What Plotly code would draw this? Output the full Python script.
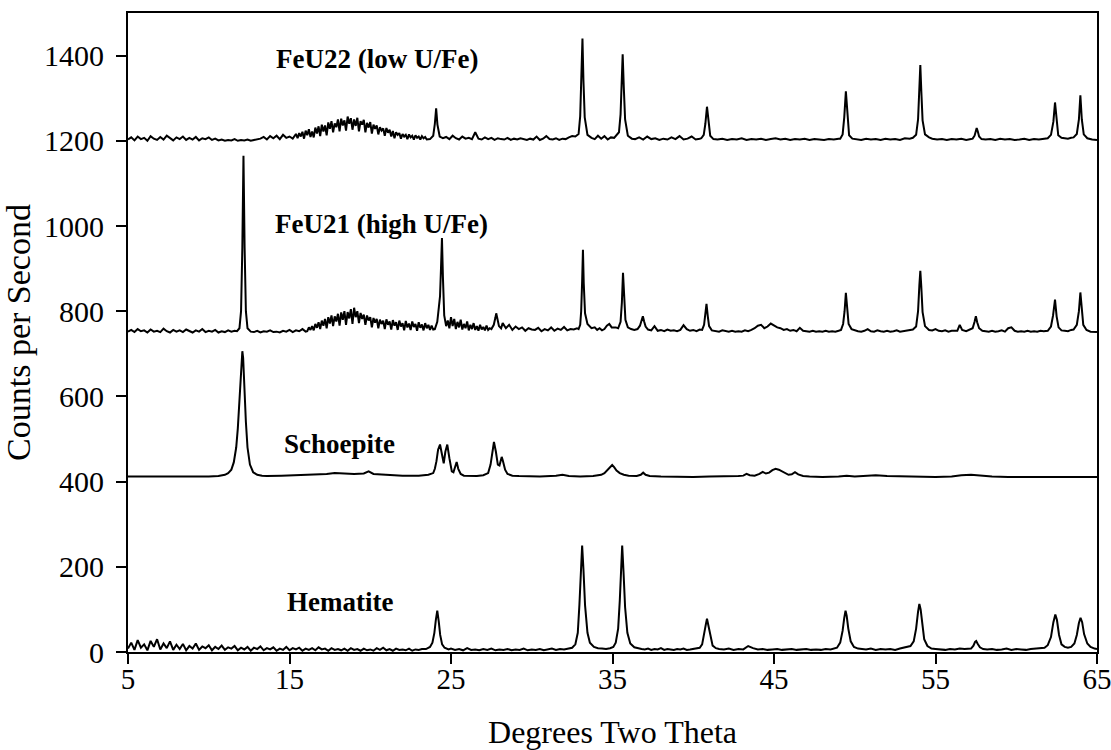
import numpy as np
import plotly.graph_objects as go

# ---------------- data ----------------
# Each trace is a list of blocks. A block is either a scan segment
# ("seg", x_start, x_step, [counts...]) or explicit points ("pts", [x...], [y...]).

feu22_blocks = [
    ("seg", 5.0, 0.2, [1203,1208,1201,1210,1204,1207,1200,1211,1205,1202,1209,1203,1212,1206,1201,1208,1204,1210,1202,1207,1203,1209,1201,1206,1204,1208,1202,1205,
                      1201,1203,1200,1202,1201,1204,1200,1202,1201,1203,1200,1202,1203,
                      1205,1209,1203,1211,1206,1212,1204,1214,1207,1210,1205,1216]),
    ("seg", 15.5, 0.1, [1206,1218,1210,1221,1205,1224,1213,1227,1209,1222,1208,1231,1217,1234,1211,1238,1222,1236,1213,1243,1228,1246,1220,1241,1232,1250,1222,1252,1236,1248,1224,1257,1240,1253,1226,1250,1235,1254,1222,1246,1238,1249,1220,1242,1231,1244,1217,1238,1228,1236,1215,1232,1224,1229,1212,1230,1219,1226,1210,1223,1206,1220,1214,1218,1205,1216,1210,1214,1204,1215,1208,1212,1203,1213,1207,1210,1203,1211,1206,1209,1203]),
    ("pts", [23.7,23.9,24.0,24.08,24.16,24.3,24.5], [1204,1212,1240,1276,1238,1210,1206]),
    ("seg", 24.7, 0.2, [1209,1204,1212,1206,1203,1210,1205,1207,1204,1220,1205,1203,1208,1204,1207,1202,1206,1204,1203,1207,1202,1205,1203,1206,1204,1202,1205,1203,1210,1202,1205,1211,1204,1203,1206,1202,1205,1204,1208,1211]),
    ("pts", [32.7,32.9,33.0,33.08,33.14,33.2,33.28,33.45,33.7], [1210,1216,1258,1345,1440,1342,1255,1214,1207]),
    ("seg", 33.9, 0.2, [1204,1212,1205,1211,1203,1208,1207]),
    ("pts", [35.25,35.4,35.5,35.57,35.63,35.7,35.78,35.95,36.2], [1214,1220,1262,1330,1403,1325,1250,1212,1205]),
    ("seg", 36.4, 0.25, [1204,1208,1203,1210,1204,1206,1202,1205,1203,1208,1204,1211,1203,1205,1210,1203,1205]),
    ("pts", [40.5,40.65,40.75,40.85,40.95,41.05,41.25], [1206,1214,1240,1280,1238,1212,1204]),
    ("seg", 41.5, 0.3, [1203,1205,1202,1204,1203,1206,1202,1204,1203,1205,1202,1204,1206,1203,1205,1202,1204,1203,1205,1202,1204,1203,1202,1204,1203,1205]),
    ("pts", [49.1,49.25,49.35,49.45,49.55,49.65,49.85], [1205,1215,1255,1316,1252,1213,1205]),
    ("seg", 50.1, 0.3, [1204,1202,1205,1203,1204,1202,1205,1203,1204,1202,1206,1205]),
    ("pts", [53.6,53.8,53.92,54.0,54.06,54.12,54.2,54.35,54.6], [1207,1214,1250,1320,1378,1318,1248,1215,1208]),
    ("seg", 54.8, 0.3, [1205,1203,1204,1202,1204,1203,1205,1202,1204]),
    ("pts", [57.3,57.42,57.5,57.55,57.62,57.7,57.85], [1205,1212,1225,1230,1222,1210,1204]),
    ("seg", 58.1, 0.3, [1203,1204,1202,1205,1203,1204,1202,1203,1205,1202,1204,1203,1205]),
    ("pts", [61.95,62.15,62.3,62.4,62.5,62.6,62.8], [1206,1214,1245,1290,1244,1213,1207]),
    ("seg", 63.0, 0.2, [1206,1205,1207]),
    ("pts", [63.55,63.75,63.88,63.97,64.06,64.18,64.4,64.7,65.0], [1208,1216,1250,1307,1250,1215,1206,1203,1202]),
]

feu21_blocks = [
    ("seg", 5.0, 0.2, [752,756,751,758,753,755,750,757,752,754,751,759,753,750,756,752,755,751,757,753,750,755,752,758,751,754,752,756,750,753,751,755,752,754]),
    ("pts", [11.75,11.9,12.0,12.08,12.15,12.22,12.3,12.4,12.6], [753,760,800,950,1165,950,800,760,752]),
    ("seg", 12.8, 0.2, [751,754,750,753,752,755,751,752,750,754,752,756,751,755,753,758,752]),
    ("seg", 16.1, 0.1, [753,762,756,765,755,770,761,774,758,778,766,782,760,786,771,790,765,788,776,794,766,797,780,800,768,798,783,805,770,808,786,800,772,796,782,792,768,790,778,786,762,784,773,782,760,780,770,778,758,781,768,776,757,779,766,774,756,778,764,772,755,777,762,771,756,776,763,770,754,774,761,769,755,772,760,768,756,766,757]),
    ("pts", [24.0,24.15,24.25,24.32,24.38,24.44,24.5,24.58,24.7], [758,775,810,835,900,972,880,790,765]),
    ("seg", 24.8, 0.1, [778,760,786,765,782,758,775,762,780,757,770,760,776,755,768,758,772,756,765,754,768,757,763,755,766,756,760]),
    ("pts", [27.5,27.65,27.75,27.8,27.87,27.97,28.1], [758,768,785,795,783,765,760]),
    ("seg", 28.2, 0.2, [772,760,768,756,764,758,762,754,760,757,756,761,753,758,755,762,754,759,756,763,755,758,757,760]),
    ("pts", [32.9,33.0,33.06,33.12,33.17,33.22,33.3,33.45,33.7], [758,768,800,870,944,865,795,770,760]),
    ("seg", 33.9, 0.15, [762,756,760,755,758,766,770,762]),
    ("pts", [35.2,35.35,35.5,35.58,35.65,35.72,35.8,35.95,36.15], [762,760,775,820,890,818,780,762,758]),
    ("pts", [36.35,36.55,36.7,36.8,36.88,36.96,37.05,37.2,37.4], [756,758,766,778,788,776,764,757,755]),
    ("seg", 37.6, 0.2, [765,754,756,753,757,754,755,753,756,767,758,754,756,753,757]),
    ("pts", [40.55,40.67,40.75,40.82,40.9,40.98,41.15], [756,768,790,817,788,765,755]),
    ("seg", 41.4, 0.2, [754,752,755,753,752,754,752,753,752,755,753,756,760,766,768,760,764,771,766,762,760,756,758,754,756,753,761,754,753,752,754,752,753,752,754,752,753,752,754]),
    ("pts", [49.15,49.28,49.37,49.45,49.53,49.62,49.8], [756,770,800,843,798,770,758]),
    ("seg", 50.0, 0.2, [755,753,752,754,758,753,752,755,753,752,754,752,753,755,752,753,754,756]),
    ("pts", [53.6,53.8,53.92,54.0,54.06,54.12,54.2,54.35,54.6], [757,764,800,860,895,858,798,765,756]),
    ("seg", 54.8, 0.2, [755,758,754,753,755,752,754,753]),
    ("pts", [56.35,56.5,56.65,56.9,57.1,57.3,57.42,57.5,57.58,57.7,57.9], [754,768,756,753,756,760,775,788,774,760,754]),
    ("seg", 58.1, 0.2, [753,752,754,752,753,755,752,760,762,754,752,753,752,754,752,753,752,754,753]),
    ("pts", [61.95,62.15,62.28,62.4,62.5,62.62,62.8], [754,764,790,827,788,762,755]),
    ("seg", 63.0, 0.2, [754,753,756]),
    ("pts", [63.55,63.75,63.88,63.97,64.05,64.15,64.35,64.6,65.0], [757,768,800,844,800,768,756,752,751]),
]

schoepite_blocks = [
    ("pts", [5.0,6.0,7.0,8.0,9.0,10.0,10.6,11.0,11.2], [412,412,411,411,411,412,413,416,420]),
    ("pts", [11.4,11.55,11.7,11.8,11.9,11.98,12.04,12.08,12.13,12.2,12.3,12.4,12.55,12.75,13.0,13.3],
            [428,445,480,525,590,660,700,706,690,620,540,480,440,422,416,414]),
    ("pts", [13.6,14.5,15.5,16.5,17.3,17.8,18.3,19.0,19.6,19.9,20.2,21.0,22.0,23.0,23.6,23.9],
            [413,414,415,417,418,420,419,418,419,424,418,416,414,414,416,420]),
    ("pts", [24.0,24.1,24.2,24.32,24.45,24.55,24.65,24.77,24.9,25.05,25.15,25.25,25.35,25.45,25.6,25.8,26.1],
            [430,448,475,487,460,443,470,487,455,424,422,432,446,430,418,414,413]),
    ("pts", [26.6,27.0,27.3,27.45,27.55,27.66,27.78,27.9,28.0,28.07,28.14,28.22,28.35,28.5,28.8,29.2],
            [413,415,420,440,470,493,470,440,438,450,458,448,428,418,414,413]),
    ("pts", [29.8,30.5,31.5,31.9,32.3,33.0,33.8,34.3], [412,412,414,416,413,412,413,416]),
    ("pts", [34.5,34.7,34.85,34.98,35.1,35.25,35.45,35.7,36.0], [420,428,436,439,434,426,420,416,414]),
    ("pts", [36.5,36.75,36.9,37.05,37.3], [413,416,421,416,413]),
    ("pts", [38.0,39.0,40.0,41.0,42.0,42.8], [412,411,411,412,412,413]),
    ("pts", [43.1,43.3,43.5,43.8,44.1,44.3,44.5,44.7,44.9,45.1,45.3,45.5,45.7,45.9,46.1,46.3,46.5,46.8,47.2],
            [414,418,415,414,418,423,419,421,427,430,428,424,419,416,417,422,417,413,412]),
    ("pts", [48.0,49.0,49.5,50.0,50.7,51.3,52.0,53.0,54.0,55.0,56.0,56.6,57.2,57.8,58.5,59.5,60.5,61.5,62.5,63.5,64.5,65.0],
            [411,412,414,412,413,415,413,412,412,411,412,415,416,414,412,411,411,411,412,411,411,411]),
]

hematite_blocks = [
    ("seg", 5.0, 0.2, [8,22,5,28,10,18,4,26,12,30,6,20,9,25,5,17,
                      7,19,4,14,8,20,5,13,9,16,4,12,7,15,5,11,8,14,4,10,
                      6,12,3,10,7,13,4,9,6,11,3,8,5,12,4,9,6,10,3,8,5,9,4,11,6,8,3,9,5,7,
                      4,8,3,9,5,7,3,8,4,6,3,9,5,10,4,7,3,8,5,6,4,8,3,6,5,7]),
    ("pts", [23.45,23.7,23.85,23.97,24.06,24.15,24.24,24.33,24.45,24.6,24.85], [7,12,22,45,75,97,72,40,18,10,6]),
    ("seg", 25.0, 0.25, [8,5,7,4,9,5,6,4,7,5,8,4,6,5,7,4,6,5,8,4,6,5,7,4,6,8,5,7,6]),
    ("pts", [32.2,32.5,32.7,32.85,32.95,33.05,33.12,33.2,33.3,33.45,33.6,33.85,34.1], [7,10,18,45,110,200,250,195,110,45,22,12,9]),
    ("pts", [34.35,34.6,34.85], [8,7,9]),
    ("pts", [35.05,35.2,35.35,35.45,35.53,35.6,35.68,35.78,35.92,36.1,36.35,36.6], [12,22,55,120,200,250,190,105,45,20,11,8]),
    ("seg", 36.8, 0.2, [7,6,8,5,7,6,9,5,7,6,5,7,6,8,5,6,7,9]),
    ("pts", [40.4,40.55,40.68,40.78,40.85,40.93,41.05,41.2,41.4], [10,18,40,65,78,63,38,15,9]),
    ("seg", 41.6, 0.3, [7,6,8,5,7,6,14,9,6,7,5,6,7,5,6,7,5,6,7,5,6,5,7,6,8]),
    ("pts", [48.9,49.1,49.25,49.35,49.43,49.5,49.6,49.75,49.95,50.2], [10,22,50,80,97,85,55,25,12,8]),
    ("seg", 50.4, 0.3, [7,6,8,5,7,6,7,5,8,10]),
    ("pts", [53.45,53.65,53.8,53.92,54.0,54.08,54.18,54.3,54.5,54.75], [14,25,55,95,113,100,65,30,14,8]),
    ("seg", 55.0, 0.3, [7,6,5,7,6,8,7]),
    ("pts", [57.2,57.35,57.45,57.52,57.6,57.75,57.95], [8,15,24,26,20,11,7]),
    ("seg", 58.2, 0.3, [6,7,5,6,8,5,7,6,5,7,8]),
    ("pts", [61.75,61.95,62.15,62.3,62.42,62.52,62.65,62.8,63.0,63.2], [10,16,35,70,88,75,40,18,12,10]),
    ("pts", [63.4,63.6,63.75,63.88,63.98,64.08,64.2,64.4,64.6,64.85,65.0], [12,20,40,68,80,70,42,20,12,8,7]),
]

series_names = ["FeU22 (low U/Fe)", "FeU21 (high U/Fe)", "Schoepite", "Hematite"]
label_x = [20.4, 20.7, 18.1, 18.1]
label_y = [1392, 1005, 488, 118]

x_ticks = [5, 15, 25, 35, 45, 55, 65]
y_ticks = [0, 200, 400, 600, 800, 1000, 1200, 1400]


def assemble(blocks):
    xs, ys = [], []
    for b in blocks:
        if b[0] == "seg":
            _, x0, dx, vals = b
            xs.extend([round(x0 + dx * i, 4) for i in range(len(vals))])
            ys.extend(vals)
        else:
            _, bx, by = b
            xs.extend(bx)
            ys.extend(by)
    return xs, ys


FONT = "Liberation Serif, Times New Roman, serif"
fig = go.Figure()
for blocks, w in [(feu22_blocks, 2.0), (feu21_blocks, 2.0), (schoepite_blocks, 2.0), (hematite_blocks, 2.0)]:
    x, y = assemble(blocks)
    fig.add_trace(go.Scatter(x=x, y=y, mode="lines",
                             line=dict(color="black", width=w), showlegend=False,
                             hoverinfo="skip"))

for name, lx, ly in zip(series_names, label_x, label_y):
    fig.add_annotation(x=lx, y=ly, text="<b>%s</b>" % name, showarrow=False,
                       xanchor="center", yanchor="middle",
                       font=dict(family=FONT, size=27, color="black"))

fig.update_layout(
    width=1111, height=750,
    margin=dict(l=128, r=14, t=13, b=98),
    paper_bgcolor="white", plot_bgcolor="white",
    showlegend=False,
    font=dict(family=FONT, color="black"),
)
fig.update_xaxes(range=[5, 65], tickvals=x_ticks, ticks="outside", ticklen=10, tickwidth=1.5,
                 tickcolor="black", showline=True, linecolor="black", linewidth=2, mirror=True,
                 showgrid=False, zeroline=False, tickfont=dict(family=FONT, size=29),
                 automargin=False, ticklabelstandoff=-10, ticklabeloverflow="allow",
                 title=dict(text="Degrees Two Theta", font=dict(family=FONT, size=32), standoff=30))
fig.update_yaxes(range=[0, 1500], tickvals=y_ticks, ticks="outside", ticklen=10, tickwidth=1.5,
                 tickcolor="black", showline=True, linecolor="black", linewidth=2, mirror=True,
                 showgrid=False, zeroline=False, tickfont=dict(family=FONT, size=30),
                 ticklabelstandoff=6, automargin=False,
                 title=dict(text="Counts per Second", font=dict(family=FONT, size=34), standoff=9))

# remove the default 8 px page margin so the 1111x750 figure fills the window exactly
fig.write_html("out.html", config={"displayModeBar": False},
               post_script="document.body.style.margin='0';")
